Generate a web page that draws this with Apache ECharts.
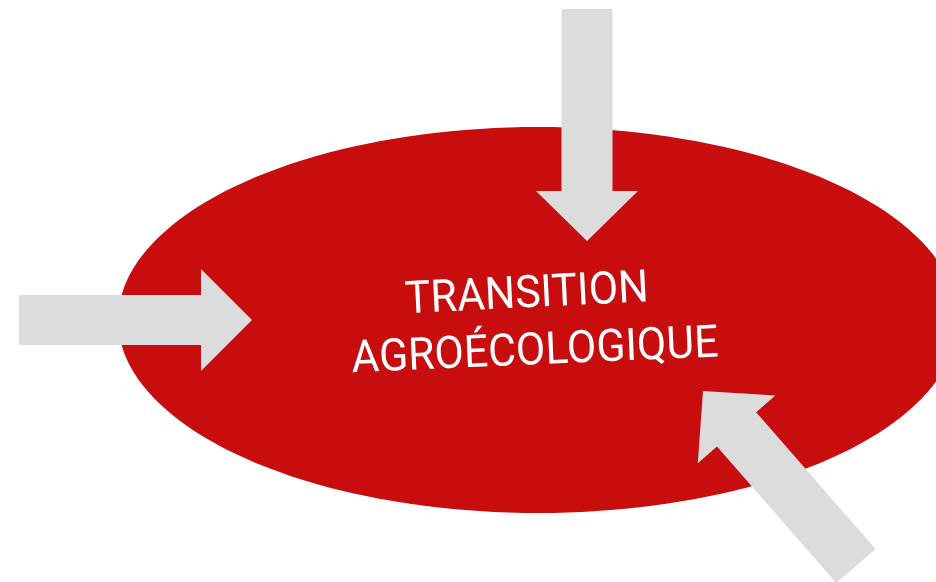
<!DOCTYPE html>
<html>
<head>
<meta charset="utf-8">
<script src="https://cdn.jsdelivr.net/npm/echarts@6/dist/echarts.min.js"></script>
<style>
  html, body { margin: 0; padding: 0; background: #fff; }
  #chart { width: 936px; height: 582px; }
</style>
</head>
<body>
<div id="chart"></div>
<script>
// ellipse: centre x, centre y, radius x, radius y (in the hidden axes' units)
var ellipse = [538, 320, 420, 193];
// arrows: tail x, tail y, tip x, tip y, shaft width, head width, head length
var arrows = [
  [587, 9, 587, 241, 51, 102, 50],
  [19, 320, 252, 320, 50, 102, 51],
  [856, 566, 703, 391, 52, 103, 51]
];
var labels = ['TRANSITION', 'AGROÉCOLOGIQUE'];
// label centre x, centre y, tilt (radians)
var labelPos = [[527, 296, 0.05], [535, 353, 0.043]];

var chart = echarts.init(document.getElementById('chart'));

function ellipseItem(params, api) {
  var pts = [];
  var cx = api.value(0), cy = api.value(1), rx = api.value(2), ry = api.value(3);
  for (var i = 0; i < 180; i++) {
    var t = i / 180 * Math.PI * 2;
    pts.push(api.coord([cx + rx * Math.cos(t), cy + ry * Math.sin(t)]));
  }
  return { type: 'polygon', shape: { points: pts }, style: { fill: '#c80d0f' } };
}

function arrowItem(params, api) {
  var x0 = api.value(0), y0 = api.value(1), x1 = api.value(2), y1 = api.value(3);
  var sw = api.value(4) / 2, hw = api.value(5) / 2, hl = api.value(6);
  var len = Math.sqrt((x1 - x0) * (x1 - x0) + (y1 - y0) * (y1 - y0));
  var ux = (x1 - x0) / len, uy = (y1 - y0) / len;
  var nx = -uy, ny = ux;
  var bx = x1 - ux * hl, by = y1 - uy * hl;
  var p = [
    [x0 + nx * sw, y0 + ny * sw],
    [bx + nx * sw, by + ny * sw],
    [bx + nx * hw, by + ny * hw],
    [x1, y1],
    [bx - nx * hw, by - ny * hw],
    [bx - nx * sw, by - ny * sw],
    [x0 - nx * sw, y0 - ny * sw]
  ];
  return {
    type: 'polygon',
    shape: { points: p.map(function (q) { return api.coord(q); }) },
    style: { fill: '#dcdcdc' }
  };
}

function labelItem(params, api) {
  var c = api.coord([api.value(0), api.value(1)]);
  return {
    type: 'text',
    x: c[0], y: c[1],
    rotation: api.value(2),
    scaleX: 0.95,
    style: {
      text: labels[params.dataIndex],
      fill: '#ffffff',
      font: '45px Roboto',
      align: 'center',
      verticalAlign: 'middle'
    }
  };
}

chart.setOption({
  animation: false,
  backgroundColor: '#fff',
  grid: { left: 0, right: 0, top: 0, bottom: 0 },
  xAxis: { type: 'value', min: 0, max: 936, show: false },
  yAxis: { type: 'value', min: 0, max: 582, inverse: true, show: false },
  series: [
    { type: 'custom', renderItem: ellipseItem, data: [ellipse], z: 1, silent: true, clip: false },
    { type: 'custom', renderItem: arrowItem, data: arrows, z: 2, silent: true, clip: false },
    { type: 'custom', renderItem: labelItem, data: labelPos, z: 3, silent: true, clip: false }
  ]
});
</script>
</body>
</html>
